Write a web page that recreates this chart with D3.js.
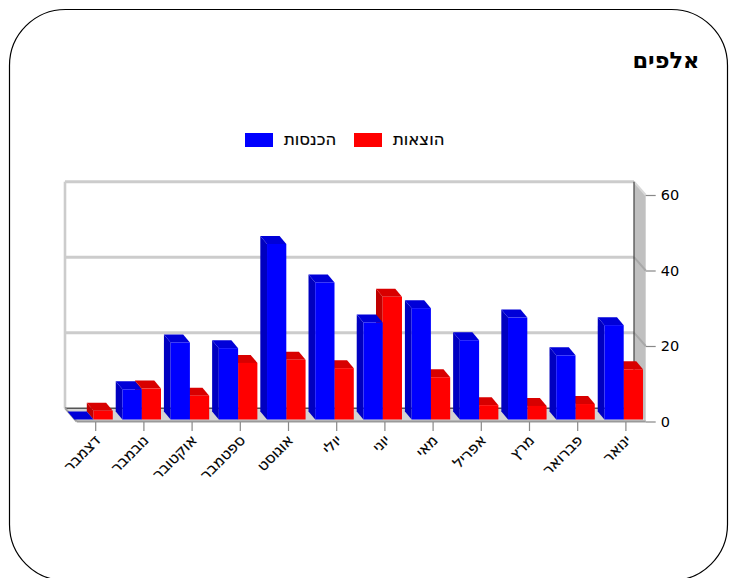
<!DOCTYPE html>
<html>
<head>
<meta charset="utf-8">
<script src="https://d3js.org/d3.v7.min.js"></script>
<style>
  html, body { margin: 0; padding: 0; background: #fff; overflow: hidden; }
  text { font-family: "DejaVu Sans", sans-serif; fill: #000; }
</style>
</head>
<body>
<div id="chart"></div>
<script>
var chart_width  = 734;
var chart_height = 578;

// months run right to left, as in the picture
var months   = ["דצמבר", "נובמבר", "אוקטובר", "ספטמבר", "אוגוסט", "יולי", "יוני", "מאי", "אפריל", "מרץ", "פברואר", "ינואר"];
var income   = [0, 8, 20.4, 18.9, 46.5, 36.3, 25.7, 29.5, 21, 27, 17, 25];
var expenses = [2.3, 8.2, 6.3, 15, 15.8, 13.6, 32.5, 11.2, 3.8, 3.6, 4.1, 13.3];
var yTicks   = [0, 20, 40, 60];

var titleText    = "אלפים";
var incomeLabel  = "הכנסות";
var expenseLabel = "הוצאות";

// 3d look: the back wall sits up and left of the front plane
var depthX = -11.7, depthY = -13.3;
var barDepthX = -6.7, barDepthY = -8;
var barShiftX = -2.2, barShiftY = -2;

var x = d3.scaleBand()
    .domain(months)
    .range([71.6, 650])
    .paddingInner(0.2)
    .paddingOuter(0.1);

var xInner = d3.scaleBand()
    .domain(["income", "expenses"])
    .range([0, x.bandwidth()]);

var y = d3.scaleLinear()
    .domain([0, 60])
    .range([421.5, 195]);

var left = 76.7, right = 645.7;

var svg = d3.select("#chart")
    .append("svg")
    .attr("width", chart_width)
    .attr("height", chart_height)
    .style("display", "block");

// rounded frame, runs off the bottom
svg.append("rect")
    .attr("x", 9.5)
    .attr("y", 9.5)
    .attr("width", 718)
    .attr("height", 571)
    .attr("rx", 56)
    .attr("ry", 56)
    .attr("fill", "#fff")
    .attr("stroke", "#000")
    .attr("stroke-width", 1.2);

svg.append("text")
    .attr("x", 699.5)
    .attr("y", 68)
    .attr("text-anchor", "end")
    .attr("font-size", 22.5)
    .attr("font-weight", "bold")
    .text(titleText);

// Legend
var legend = [
  { label: incomeLabel, color: "#0000ff", x: 245 },
  { label: expenseLabel, color: "#ff0000", x: 354 }
];
legend.forEach(function (d) {
  svg.append("rect")
      .attr("x", d.x)
      .attr("y", 133)
      .attr("width", 28)
      .attr("height", 14)
      .attr("fill", d.color);
  svg.append("text")
      .attr("x", d.x + 39)
      .attr("y", 145)
      .attr("text-anchor", "start")
      .attr("font-size", 16.5)
      .attr("stroke", "#000")
      .attr("stroke-width", 0.2)
      .text(d.label);
});

function pts(a) { return a.map(function (p) { return p.join(","); }).join(" "); }

var wall = svg.append("g");

// floor
wall.append("polygon")
    .attr("points", pts([[left + depthX, y(0) + depthY], [right + depthX, y(0) + depthY], [right, y(0)], [left, y(0)]]))
    .attr("fill", "#d3d3d3");

// right wall
wall.append("polygon")
    .attr("points", pts([[right + depthX, y(60) + depthY], [right, y(60)], [right, y(0)], [right + depthX, y(0) + depthY]]))
    .attr("fill", "#c0c0c0");

// gridlines on back wall and their return down the right wall
wall.selectAll(".grid")
    .data(yTicks.filter(function (d) { return d > 0; }))
    .enter()
    .append("path")
    .attr("class", "grid")
    .attr("fill", "none")
    .attr("stroke", "#cccccc")
    .attr("stroke-width", 3)
    .attr("d", function (d) {
      return "M" + (left + depthX) + "," + (y(d) + depthY) + "H" + (right + depthX);
    });

wall.selectAll(".gridSide")
    .data(yTicks.filter(function (d) { return d > 0; }))
    .enter()
    .append("line")
    .attr("class", "gridSide")
    .attr("x1", right + depthX)
    .attr("y1", function (d) { return y(d) + depthY; })
    .attr("x2", right)
    .attr("y2", function (d) { return y(d); })
    .attr("stroke", function (d) { return d === 60 ? "#d8d8d8" : "#a8a8a8"; })
    .attr("stroke-width", 2);

// left edge of the back wall
wall.append("line")
    .attr("x1", left + depthX)
    .attr("x2", left + depthX)
    .attr("y1", y(60) + depthY)
    .attr("y2", y(0) + depthY)
    .attr("stroke", "#cccccc")
    .attr("stroke-width", 2.6);

// dark edges
wall.append("line")
    .attr("x1", right + depthX)
    .attr("x2", right + depthX)
    .attr("y1", y(60) + depthY)
    .attr("y2", y(0) + depthY)
    .attr("stroke", "#444")
    .attr("stroke-width", 1.2);

wall.append("line")
    .attr("x1", left + depthX)
    .attr("x2", right + depthX)
    .attr("y1", y(0) + depthY)
    .attr("y2", y(0) + depthY)
    .attr("stroke", "#555")
    .attr("stroke-width", 1.4);

wall.append("line")
    .attr("x1", left + depthX)
    .attr("y1", y(0) + depthY)
    .attr("x2", left)
    .attr("y2", y(0))
    .attr("stroke", "#a0a0a0")
    .attr("stroke-width", 2);

wall.append("line")
    .attr("x1", left)
    .attr("x2", right)
    .attr("y1", y(0))
    .attr("y2", y(0))
    .attr("stroke", "#999")
    .attr("stroke-width", 2);

// Bars, red first so the blue front covers the red side
function drawBars(key, values, front, side, top) {
  var g = svg.append("g").attr("class", "bars-" + key);
  var bar = g.selectAll("g")
      .data(months.map(function (m, i) { return { month: m, value: values[i] }; }))
      .enter()
      .append("g");

  function bx(d) { return x(d.month) + xInner(key) + barShiftX; }
  function by(d) { return y(d.value) + barShiftY; }
  var w = xInner.bandwidth();
  var base = y(0) + barShiftY;

  bar.append("polygon")
      .attr("points", function (d) {
        return pts([[bx(d), by(d)], [bx(d) + barDepthX, by(d) + barDepthY], [bx(d) + barDepthX, base + barDepthY], [bx(d), base]]);
      })
      .attr("fill", side);

  bar.append("polygon")
      .attr("points", function (d) {
        return pts([[bx(d), by(d)], [bx(d) + barDepthX, by(d) + barDepthY], [bx(d) + barDepthX + w, by(d) + barDepthY], [bx(d) + w, by(d)]]);
      })
      .attr("fill", top);

  bar.append("rect")
      .attr("x", bx)
      .attr("y", by)
      .attr("width", w)
      .attr("height", function (d) { return base - by(d); })
      .attr("fill", front);
}

drawBars("expenses", expenses, "#ff0000", "#c00000", "#d80000");
drawBars("income", income, "#0000ff", "#0000c0", "#0000d8");

// Axes
var xAxis = svg.append("g")
    .attr("transform", "translate(0," + (y(0) + 0.5) + ")")
    .call(d3.axisBottom(x).tickSize(9));
xAxis.select(".domain").remove();
xAxis.selectAll("line").attr("stroke", "#888").attr("stroke-width", 1.2);
xAxis.selectAll("text")
    .attr("font-family", "DejaVu Sans, sans-serif")
    .attr("font-size", 15)
    .attr("stroke", "#000")
    .attr("stroke-width", 0.2)
    .attr("text-anchor", "end")
    .attr("x", 0)
    .attr("y", 0)
    .attr("dy", "0.35em")
    .attr("transform", "translate(2,15.5) rotate(-45)");

var yAxis = svg.append("g")
    .attr("transform", "translate(" + right + ",0)")
    .call(d3.axisRight(y).tickValues(yTicks).tickSize(10).tickPadding(5));
yAxis.select(".domain").remove();
yAxis.selectAll("line").attr("stroke", "#888").attr("stroke-width", 1.2);
yAxis.selectAll("text")
    .attr("font-family", "DejaVu Sans, sans-serif")
    .attr("font-size", 14.5);
</script>
</body>
</html>
